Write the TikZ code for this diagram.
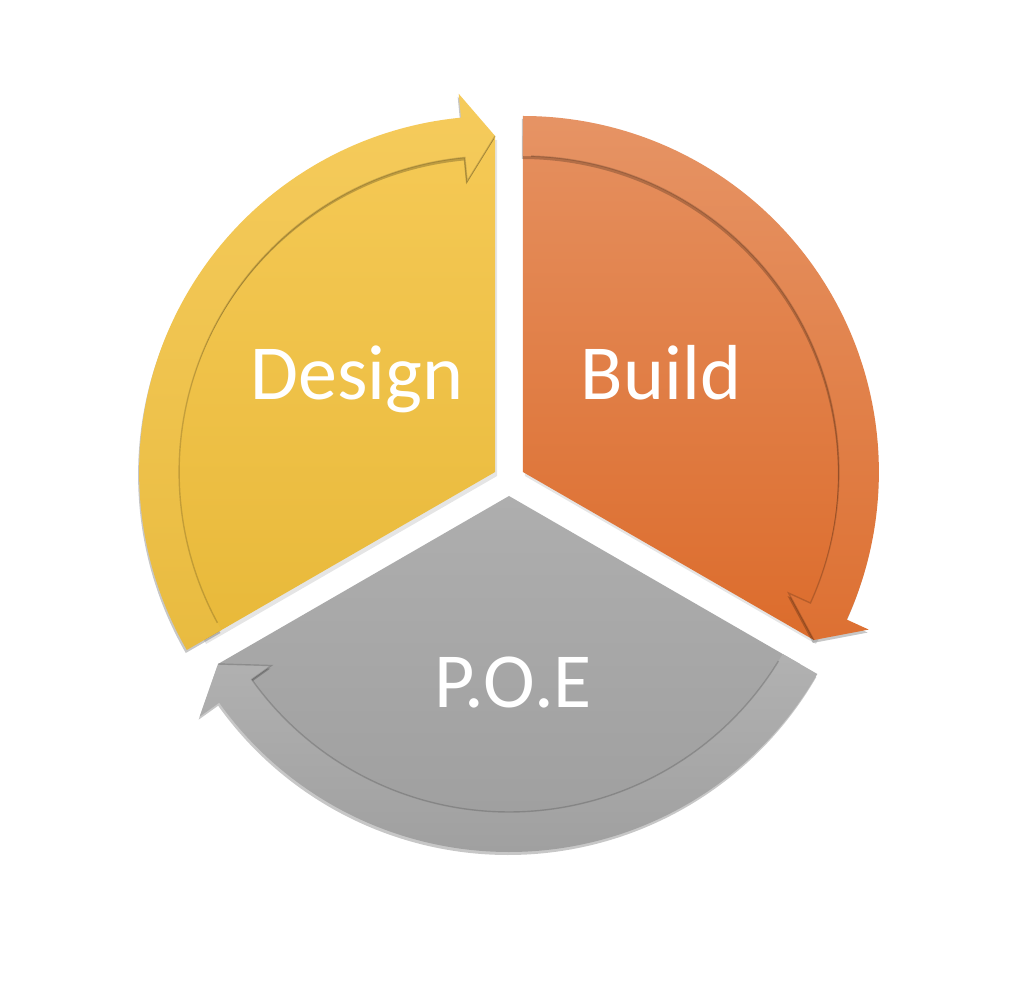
\documentclass[tikz,border=0pt]{standalone}
\usepackage{fontspec}
\setmainfont{Carlito}
\definecolor{dTop}{HTML}{F5C955}
\definecolor{dBot}{HTML}{E8B93A}
\definecolor{bTop}{HTML}{E58F5E}
\definecolor{bBot}{HTML}{DC6C2C}
\definecolor{pTop}{HTML}{AEAEAE}
\definecolor{pBot}{HTML}{9D9D9D}
\tikzset{
  segshadow/.style={preaction={fill=black,opacity=0.10,transform canvas={shift={(2pt,-4pt)}}}},
  bandshadow/.style={preaction={fill=black,opacity=0.22,transform canvas={shift={(-1pt,-3pt)}}}},
  edgeline/.style={draw=black,draw opacity=0.17,line width=1.4pt,line join=miter},
  label/.style={text=white,font=\fontsize{78}{90}\selectfont,anchor=base,inner sep=0pt}
}
\begin{document}
\begin{tikzpicture}
\fill[white] (0,0) rectangle (1024pt,999pt);
\useasboundingbox (0,0) rectangle (1024pt,999pt);
\coordinate (D) at (495.1pt,527pt);
\coordinate (B) at (522.9pt,527pt);
\coordinate (P) at (509pt,503pt);

% ---------- Design ----------
\path[segshadow,top color=dTop,bottom color=dBot]
  (D) -- ([shift={(90:336pt)}]D) arc[start angle=90,end angle=210,radius=336pt] -- cycle;
\path[bandshadow,top color=dTop!96!white,bottom color=dBot!97!white]
  ([shift={(210:356pt)}]D) arc[start angle=210,end angle=95.5,radius=356pt]
  -- ([shift={(95.5:380pt)}]D) -- ([shift={(90:336pt)}]D) -- ([shift={(95.5:292pt)}]D)
  -- ([shift={(95.5:316pt)}]D) arc[start angle=95.5,end angle=210,radius=316pt] -- cycle;
\draw[edgeline] ([shift={(90:336pt)}]D) -- ([shift={(95.5:292pt)}]D)
  -- ([shift={(95.5:316pt)}]D) arc[start angle=95.5,end angle=208.5,radius=316pt];

% ---------- Build ----------
\path[segshadow,top color=bTop,bottom color=bBot]
  (B) -- ([shift={(90:336pt)}]B) arc[start angle=90,end angle=-30,radius=336pt] -- cycle;
\path[bandshadow,top color=bTop!96!white,bottom color=bBot!97!white]
  ([shift={(90:356pt)}]B) arc[start angle=90,end angle=-24.5,radius=356pt]
  -- ([shift={(-24.5:380pt)}]B) -- ([shift={(-30:336pt)}]B) -- ([shift={(-24.5:292pt)}]B)
  -- ([shift={(-24.5:316pt)}]B) arc[start angle=-24.5,end angle=90,radius=316pt] -- cycle;
\draw[edgeline] ([shift={(-30:336pt)}]B) -- ([shift={(-24.5:292pt)}]B)
  -- ([shift={(-24.5:316pt)}]B) arc[start angle=-24.5,end angle=88.5,radius=316pt];

% ---------- P.O.E ----------
\path[segshadow,top color=pTop,bottom color=pBot]
  (P) -- ([shift={(210:336pt)}]P) arc[start angle=210,end angle=330,radius=336pt] -- cycle;
\path[bandshadow,top color=pTop!96!white,bottom color=pBot!97!white]
  ([shift={(330:356pt)}]P) arc[start angle=330,end angle=215.5,radius=356pt]
  -- ([shift={(215.5:380pt)}]P) -- ([shift={(210:336pt)}]P) -- ([shift={(215.5:292pt)}]P)
  -- ([shift={(215.5:316pt)}]P) arc[start angle=215.5,end angle=330,radius=316pt] -- cycle;
\draw[edgeline] ([shift={(210:336pt)}]P) -- ([shift={(215.5:292pt)}]P)
  -- ([shift={(215.5:316pt)}]P) arc[start angle=215.5,end angle=328.5,radius=316pt];

% ---------- labels ----------
\node[label] (tD) at (357pt,599pt) {Design};
\node[label] (tB) at (661pt,599pt) {Build};
\node[label] (tP) at (513pt,292pt) {P.O.E};
\end{tikzpicture}
\end{document}
